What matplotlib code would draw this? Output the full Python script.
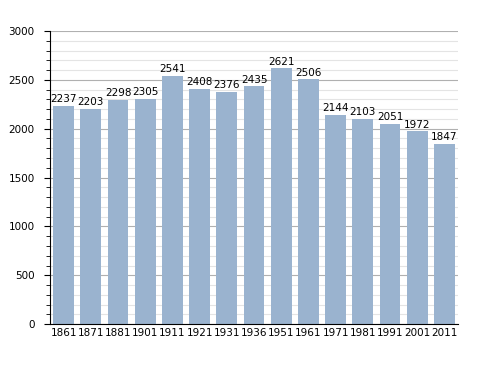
import matplotlib.pyplot as plt
import numpy as np
from matplotlib.ticker import MultipleLocator

years = ["1861", "1871", "1881", "1901", "1911", "1921", "1931", "1936",
         "1951", "1961", "1971", "1981", "1991", "2001", "2011"]
population = [2237, 2203, 2298, 2305, 2541, 2408, 2376, 2435,
              2621, 2506, 2144, 2103, 2051, 1972, 1847]

fig = plt.figure(figsize=(4.88, 3.73), dpi=100)
ax = fig.add_axes([0.1025, 0.131, 0.836, 0.786])

ind = np.arange(len(years))
ax.bar(ind, population, 0.77, color='#9ab3cf', zorder=2)
for i, v in zip(ind, population):
    ax.text(i, v + 15, str(v), ha='center', va='bottom', fontsize=7.5)

ax.set_xlim(-0.5, len(years) - 0.5)
ax.set_ylim(0, 3000)
ax.set_xticks(ind)
ax.set_xticklabels(years, fontsize=7.5)
ax.tick_params(axis='x', length=0, pad=3)
ax.yaxis.set_major_locator(MultipleLocator(500))
ax.yaxis.set_minor_locator(MultipleLocator(100))
ax.tick_params(axis='y', which='major', length=4, labelsize=7.5, direction='out', pad=7)
ax.tick_params(axis='y', which='minor', length=3, direction='out')
ax.grid(axis='y', which='major', color='#b0b0b0', linewidth=0.8, zorder=0)
ax.grid(axis='y', which='minor', color='#e4e4e4', linewidth=0.8, zorder=0)
ax.set_axisbelow(True)
for s in ['top', 'right']:
    ax.spines[s].set_visible(False)

fig.savefig("out.png", dpi=100)
